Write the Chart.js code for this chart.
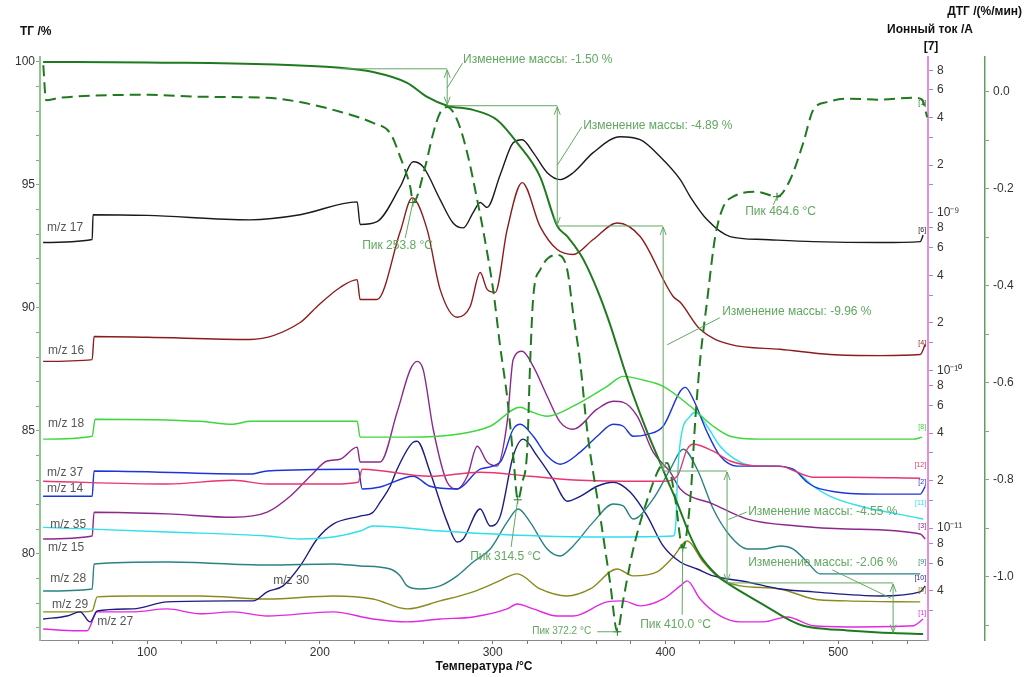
<!DOCTYPE html>
<html lang="ru">
<head>
<meta charset="utf-8">
<title>ТГ – ДТГ – МС</title>
<script src="https://cdn.jsdelivr.net/npm/chart.js@4.4.1/dist/chart.umd.min.js"></script>
<style>
  html, body { margin: 0; padding: 0; background: #fff; overflow: hidden; }
  canvas { display: block; }
</style>
</head>
<body>
<canvas id="tga" width="1026" height="677"></canvas>
<script>
const FONT = "'Liberation Sans', Arial, sans-serif";
const NOTE = '#62a862';
const TG_GREEN = '#1f7a1f';

// ticks
const tempTicks = [60, 80, 100, 120, 140, 160, 180, 200, 220, 240, 260, 280, 300, 320, 340, 360, 380, 400, 420, 440, 460, 480, 500, 520, 540];
const tgTicks = [77, 78, 79, 80, 81, 82, 83, 84, 85, 86, 87, 88, 89, 90, 91, 92, 93, 94, 95, 96, 97, 98, 99, 100];
const dtgTicks = [-1.1, -1.0, -0.9, -0.8, -0.7, -0.6, -0.5, -0.4, -0.3, -0.2, -0.1, 0.0];
const ionTicks = [3e-12, 4e-12, 6e-12, 8e-12, 1e-11, 1.5e-11, 2e-11, 3e-11, 4e-11, 6e-11, 8e-11,
  1e-10, 1.5e-10, 2e-10, 3e-10, 4e-10, 6e-10, 8e-10, 1e-9, 1.5e-9, 2e-9, 3e-9, 4e-9, 6e-9, 8e-9];

// TG, %
const tgTemp = [39.8, 100, 211.7, 230.8, 250.5, 262.1, 273.7, 288.7, 302.6, 314.2, 327.5, 337.4, 343.2, 350.7, 354.7, 362.3, 368.0, 372.2, 375.6, 381.3, 389.5, 397.0, 401.0, 405.7, 410.0, 414.4, 420.1, 428.8, 435.7, 453.1, 464.6, 472.2, 479.8, 485.6, 505.2, 531.8, 549.2];
const tgMass = [100.0, 99.98, 99.76, 99.59, 99.15, 98.58, 98.22, 98.05, 97.64, 96.71, 95.33, 93.33, 92.91, 92.19, 91.67, 90.43, 89.32, 88.40, 87.64, 86.47, 84.95, 83.70, 83.02, 82.27, 81.50, 80.72, 79.94, 79.20, 78.82, 78.08, 77.60, 77.30, 77.08, 77.00, 76.89, 76.78, 76.74];

// DTG, %/min
const dtgTemp = [39.9, 41.5, 49.6, 101.7, 130.7, 169.5, 188.6, 211.7, 230.8, 240.7, 246.5, 252.3, 254.0, 260.9, 265.6, 269.6, 273.7, 279.5, 285.3, 291.1, 294.5, 300.3, 304.4, 308.4, 311.9, 314.6, 317.1, 320.0, 321.7, 323.5, 327.5, 337.4, 343.2, 346.6, 350.7, 354.7, 362.3, 368.0, 372.2, 375.6, 381.3, 389.5, 397.0, 401.0, 405.7, 410.0, 414.4, 417.3, 420.1, 424.2, 428.8, 433.5, 439.2, 453.1, 464.6, 472.2, 479.8, 485.6, 493.7, 505.2, 524.3, 543.4, 548.6, 551.5];
const dtgRate = [0.055, -0.017, -0.012, -0.006, -0.010, -0.012, -0.021, -0.041, -0.064, -0.085, -0.134, -0.196, -0.228, -0.155, -0.085, -0.043, -0.031, -0.058, -0.126, -0.223, -0.285, -0.408, -0.526, -0.629, -0.75, -0.841, -0.806, -0.738, -0.559, -0.423, -0.367, -0.336, -0.367, -0.456, -0.559, -0.697, -0.876, -1.012, -1.113, -1.047, -0.944, -0.841, -0.773, -0.765, -0.84, -0.94, -0.841, -0.676, -0.553, -0.429, -0.299, -0.237, -0.216, -0.206, -0.216, -0.181, -0.105, -0.037, -0.021, -0.014, -0.016, -0.012, -0.016, -0.052];

// ion currents, A
const mz17Temp = [39.8, 68.2, 68.7, 100.0, 159.6, 188.6, 221.6, 223.3, 233.1, 246.5, 254.0, 259.8, 269.6, 277.1, 283.0, 288.7, 292.8, 296.8, 304.4, 311.9, 317.1, 323.5, 331.6, 339.1, 346.6, 358.2, 373.8, 385.4, 397.0, 408.6, 414.4, 424.2, 437.5, 456.6, 485.6, 524.3, 547.5, 549.2];
const mz17 = [6.46e-10, 6.75e-10, 9.7e-10, 9.6e-10, 9.0e-10, 9.7e-10, 1.17e-9, 8.4e-10, 8.76e-10, 1.46e-9, 2.1e-9, 1.95e-9, 1.21e-9, 8.6e-10, 8.0e-10, 1.0e-9, 1.16e-9, 1.08e-9, 1.74e-9, 2.77e-9, 2.9e-9, 2.4e-9, 1.79e-9, 1.62e-9, 1.79e-9, 2.4e-9, 3.03e-9, 2.9e-9, 2.26e-9, 1.62e-9, 1.26e-9, 9.0e-10, 7.05e-10, 6.75e-10, 6.55e-10, 6.46e-10, 6.55e-10, 7.2e-10];

const mz16Temp = [39.8, 68.2, 69.3, 100.0, 159.6, 188.6, 198.4, 211.7, 221.6, 223.3, 233.1, 246.5, 253.4, 262.1, 269.6, 279.5, 287.0, 292.8, 296.8, 301.5, 308.4, 317.1, 327.5, 337.4, 346.6, 358.2, 372.1, 385.4, 404.5, 408.6, 420.1, 437.5, 466.4, 495.4, 524.3, 547.5, 550.4];
const mz16 = [1.14e-10, 1.17e-10, 1.64e-10, 1.62e-10, 1.57e-10, 2.01e-10, 2.54e-10, 3.35e-10, 3.76e-10, 2.81e-10, 2.81e-10, 7.58e-10, 1.24e-9, 7.8e-10, 3.26e-10, 2.17e-10, 2.54e-10, 4.17e-10, 3.26e-10, 3.12e-10, 7.8e-10, 1.55e-9, 8.15e-10, 5.83e-10, 5.42e-10, 6.75e-10, 8.6e-10, 7.05e-10, 2.94e-10, 2.7e-10, 1.82e-10, 1.46e-10, 1.36e-10, 1.26e-10, 1.24e-10, 1.26e-10, 1.46e-10];

const mz18Temp = [39.8, 68.2, 69.9, 130.7, 149.8, 159.6, 221.6, 223.3, 250.5, 279.5, 298.6, 316.0, 321.7, 331.6, 346.6, 366.3, 375.6, 385.4, 398.7, 414.4, 427.7, 437.5, 454.9, 543.4, 548.6];
const mz18 = [3.66e-11, 3.82e-11, 4.9e-11, 4.75e-11, 4.55e-11, 4.75e-11, 4.75e-11, 3.77e-11, 3.77e-11, 3.93e-11, 4.42e-11, 5.83e-11, 5.5e-11, 5.12e-11, 5.92e-11, 7.92e-11, 9.16e-11, 8.76e-11, 7.92e-11, 5.92e-11, 4.42e-11, 3.82e-11, 3.66e-11, 3.66e-11, 3.77e-11];

const mz37Temp = [39.8, 111.6, 149.8, 169.5, 207.7, 222.2, 224.5, 263.8, 292.8, 321.7, 350.7, 398.7, 406.8, 412.6, 416.1, 427.7, 437.5, 454.9, 466.4, 476.3, 485.6, 505.2, 547.5];
const mz37 = [1.98e-11, 1.9e-11, 2.01e-11, 1.9e-11, 1.9e-11, 1.95e-11, 2.36e-11, 2.13e-11, 2.26e-11, 2.13e-11, 2.01e-11, 1.98e-11, 2.13e-11, 3.16e-11, 3.4e-11, 3.07e-11, 2.66e-11, 2.47e-11, 2.47e-11, 2.26e-11, 2.1e-11, 2.1e-11, 2.07e-11];

const mz14Temp = [39.8, 68.2, 69.3, 159.6, 169.5, 222.2, 224.5, 234.9, 254.0, 263.8, 279.5, 292.8, 304.4, 311.9, 316.0, 323.5, 331.6, 339.1, 350.7, 360.5, 369.8, 375.6, 381.3, 389.5, 398.7, 408.6, 411.5, 416.1, 424.2, 431.7, 441.6, 462.4, 474.0, 482.1, 489.6, 524.3, 547.5, 550.4];
const mz14 = [1.59e-11, 1.59e-11, 2.3e-11, 2.2e-11, 2.3e-11, 2.36e-11, 1.77e-11, 1.82e-11, 2.13e-11, 1.84e-11, 1.77e-11, 2.36e-11, 2.62e-11, 4.23e-11, 4.55e-11, 3.82e-11, 2.86e-11, 2.54e-11, 3.03e-11, 3.82e-11, 4.55e-11, 4.42e-11, 3.82e-11, 3.93e-11, 4.42e-11, 7.37e-11, 7.8e-11, 6.56e-11, 4.05e-11, 2.86e-11, 2.47e-11, 2.47e-11, 2.36e-11, 1.95e-11, 1.77e-11, 1.64e-11, 1.64e-11, 1.84e-11];

const mz35Temp = [39.8, 111.6, 169.5, 188.6, 207.7, 223.3, 230.8, 269.6, 327.5, 366.3, 404.5, 406.2, 406.8, 408.6, 414.4, 417.3, 424.2, 431.7, 443.3, 454.9, 466.4, 476.3, 485.6, 495.4, 514.5, 534.2, 549.2];
const mz35 = [1.01e-11, 9.43e-12, 8.9e-12, 8.52e-12, 8.77e-12, 9.57e-12, 1.03e-11, 9.57e-12, 8.9e-12, 8.77e-12, 8.9e-12, 1.14e-11, 1.84e-11, 3.5e-11, 5.12e-11, 5.42e-11, 4.42e-11, 3.3e-11, 2.62e-11, 2.47e-11, 2.47e-11, 2.26e-11, 1.84e-11, 1.59e-11, 1.36e-11, 1.23e-11, 1.14e-11];

const mz15Temp = [39.8, 68.2, 69.3, 111.6, 149.8, 169.5, 182.8, 194.4, 204.2, 211.7, 221.6, 223.3, 234.9, 244.7, 252.3, 256.3, 259.8, 265.6, 273.7, 279.5, 285.3, 291.1, 296.8, 302.6, 308.4, 311.9, 317.1, 323.5, 331.6, 339.1, 346.6, 360.5, 369.8, 375.6, 383.7, 392.9, 402.8, 408.6, 427.7, 447.4, 476.3, 505.2, 547.5, 550.4];
const mz15 = [8.52e-12, 8.9e-12, 1.26e-11, 1.23e-11, 1.17e-11, 1.26e-11, 1.59e-11, 2.13e-11, 2.66e-11, 2.73e-11, 3.26e-11, 2.62e-11, 2.62e-11, 5.42e-11, 1.01e-10, 1.14e-10, 1.01e-10, 4.23e-11, 1.95e-11, 1.77e-11, 2.13e-11, 3.3e-11, 2.62e-11, 2.47e-11, 4.69e-11, 1.17e-10, 1.32e-10, 1.06e-10, 6.85e-11, 4.69e-11, 4.23e-11, 5.67e-11, 6.36e-11, 6.27e-11, 5.12e-11, 3.03e-11, 2.26e-11, 1.77e-11, 1.42e-11, 1.14e-11, 1.03e-11, 9.85e-12, 9.16e-12, 8.52e-12];

const mz28Temp = [39.8, 68.2, 69.3, 111.6, 169.5, 207.7, 223.3, 240.7, 246.5, 250.5, 258.0, 269.6, 279.5, 288.7, 298.6, 308.4, 314.8, 321.7, 331.6, 339.1, 346.6, 358.2, 369.8, 375.6, 381.3, 392.9, 402.8, 410.3, 418.4, 427.7, 437.5, 447.4, 456.6, 466.4, 474.0, 482.1, 489.6, 524.3, 547.5];
const mz28 = [3.99e-12, 4.11e-12, 5.92e-12, 6.09e-12, 5.83e-12, 5.92e-12, 5.75e-12, 5.5e-12, 4.97e-12, 4.3e-12, 4.11e-12, 4.3e-12, 4.97e-12, 6.09e-12, 7.36e-12, 1.09e-11, 1.32e-11, 1.09e-11, 7.36e-12, 6.65e-12, 7.7e-12, 1.09e-11, 1.42e-11, 1.38e-11, 1.14e-11, 1.53e-11, 2.36e-11, 3.16e-11, 2.36e-11, 1.32e-11, 8.9e-12, 7.36e-12, 7.36e-12, 7.7e-12, 7.36e-12, 6.09e-12, 5.12e-12, 5.12e-12, 5.12e-12];

const mz30Temp = [39.8, 53.7, 61.2, 67.0, 71.1, 91.9, 111.6, 149.8, 161.4, 169.5, 178.7, 188.6, 198.4, 207.7, 223.3, 230.8, 234.9, 240.7, 244.7, 254.0, 256.3, 263.8, 273.7, 279.5, 283.0, 292.8, 298.6, 304.4, 311.9, 317.7, 325.8, 335.0, 343.1, 350.7, 360.5, 369.8, 379.6, 389.5, 398.7, 408.6, 418.4, 427.7, 447.4, 466.4, 485.6, 524.3, 547.5, 550.4];
const mz30 = [2.65e-12, 2.77e-12, 2.94e-12, 2.54e-12, 2.98e-12, 3.07e-12, 3.4e-12, 3.45e-12, 3.45e-12, 3.94e-12, 4.3e-12, 5.75e-12, 8.52e-12, 1.06e-11, 1.19e-11, 1.26e-11, 1.46e-11, 1.84e-11, 2.36e-11, 3.5e-11, 3.55e-11, 2.26e-11, 1.09e-11, 8.15e-12, 8.52e-12, 1.32e-11, 1.03e-11, 1.19e-11, 2.86e-11, 3.66e-11, 2.86e-11, 2.04e-11, 1.48e-11, 1.59e-11, 1.84e-11, 1.95e-11, 1.69e-11, 1.19e-11, 7.7e-12, 6.09e-12, 5.5e-12, 4.97e-12, 4.55e-12, 4.11e-12, 3.94e-12, 3.71e-12, 3.94e-12, 4.3e-12];

const mz29Temp = [39.8, 62.9, 68.2, 71.1, 91.9, 130.7, 169.5, 207.7, 230.8, 250.5, 269.6, 288.7, 302.6, 314.2, 327.5, 343.1, 356.5, 372.1, 381.3, 395.2, 404.5, 412.6, 421.9, 431.7, 443.3, 466.4, 485.6, 505.2, 547.5];
const mz29 = [2.94e-12, 2.94e-12, 2.98e-12, 3.66e-12, 3.71e-12, 3.71e-12, 3.55e-12, 3.71e-12, 3.55e-12, 3.07e-12, 3.45e-12, 3.94e-12, 4.55e-12, 5.12e-12, 4.11e-12, 3.71e-12, 4.11e-12, 5.5e-12, 4.97e-12, 5.27e-12, 6.55e-12, 8.27e-12, 6.09e-12, 4.76e-12, 4.3e-12, 4.11e-12, 3.55e-12, 3.45e-12, 3.4e-12];

const mz27Temp = [39.8, 59.5, 65.3, 71.1, 91.9, 111.6, 130.7, 149.8, 169.5, 207.7, 230.8, 250.5, 269.6, 288.7, 308.4, 314.2, 323.5, 337.4, 346.6, 366.3, 375.6, 385.4, 398.7, 408.6, 412.6, 420.1, 431.7, 443.3, 456.6, 470.5, 485.6, 505.2, 543.4, 549.2];
const mz27 = [2.29e-12, 2.23e-12, 2.23e-12, 2.94e-12, 2.94e-12, 3.07e-12, 2.86e-12, 2.94e-12, 2.77e-12, 2.94e-12, 2.65e-12, 2.54e-12, 2.65e-12, 2.73e-12, 3.07e-12, 3.3e-12, 3.07e-12, 2.77e-12, 2.77e-12, 3.4e-12, 3.45e-12, 3.21e-12, 3.55e-12, 4.3e-12, 4.62e-12, 3.55e-12, 2.77e-12, 2.54e-12, 2.54e-12, 2.73e-12, 2.4e-12, 2.36e-12, 2.4e-12, 2.65e-12];

// mass-loss steps (TG axis)
const bracketStart = 211.7;
const stepTemp = [273.7, 337.4, 398.7, 435.7, 531.8];
const stepFrom = [99.72, 98.22, 93.33, 83.37, 78.82];
const stepTo = [98.22, 93.33, 83.37, 78.82, 76.76];
const stepText = ['-1.50', '-4.89', '-9.96', '-4.55', '-2.06'];
const stepLabelT = [282.9, 352.4, 432.9, 447.9, 447.9];
const stepLabelTG = [100.08, 97.4, 89.84, 81.71, 79.63];
const leadFromT = [273.7, 337.4, 401.0, 436.5, 496.6];
const leadFromTG = [98.94, 95.8, 88.5, 81.4, 79.35];
const leadToT = [282.6, 351.5, 431.5, 447.0, 530.5];
const leadToTG = [99.95, 97.35, 89.6, 81.7, 78.2];

// DTG peaks
const peakTemp = [253.8, 314.5, 372.2, 410.0, 464.6];
const peakRate = [-0.228, -0.841, -1.113, -0.94, -0.216];
const peakLabelT = [224.5, 287.0, 322.9, 385.4, 446.2];
const peakLabelRate = [-0.318, -0.959, -1.111, -1.099, -0.247];
const peakLeadT = [249.4, 310.7, 360.5, 409.7, 462.4];
const peakLeadRate = [-0.301, -0.938, -1.113, -1.078, -0.233];
const peakFont = [12, 12, 10, 12, 12];

// curve names / end tags (placed on the TG axis)
const msNames = ['m/z 17', 'm/z 16', 'm/z 18', 'm/z 37', 'm/z 14', 'm/z 35', 'm/z 15', 'm/z 28', 'm/z 30', 'm/z 29', 'm/z 27'];
const msTags = ['[6]', '[4]', '[8]', '[12]', '[2]', '[11]', '[3]', '[9]', '[10]', '[5]', '[1]'];
const msColors = ['#1a1a1a', '#8c1c1c', '#3bd83b', '#e8366e', '#1c34dc', '#2ee0ea', '#8c288c', '#2a8282', '#1c1c84', '#8a8a1e', '#e228e2'];
const nameTemp = [42.1, 42.7, 42.7, 42.1, 42.1, 43.9, 42.7, 43.9, 173.0, 45.0, 71.1];
const nameTG = [93.25, 88.25, 85.28, 83.29, 82.64, 81.18, 80.24, 78.98, 78.9, 77.93, 77.24];
const tagTemp = 550.9;
const tagTG = [93.17, 88.58, 85.16, 83.62, 82.93, 82.07, 81.14, 79.67, 79.02, 78.54, 77.60];
const dtgTagTG = 98.33;

const msTemps = [mz17Temp, mz16Temp, mz18Temp, mz37Temp, mz14Temp, mz35Temp, mz15Temp, mz28Temp, mz30Temp, mz29Temp, mz27Temp];
const msValues = [mz17, mz16, mz18, mz37, mz14, mz35, mz15, mz28, mz30, mz29, mz27];

const pts = (xs, ys) => xs.map((x, i) => ({ x, y: ys[i] }));
const sup = s => String(s).replace(/[-0-9]/g, c => '⁻⁰¹²³⁴⁵⁶⁷⁸⁹'['-0123456789'.indexOf(c)]);
const fixedTicks = list => scale => { scale.ticks = list.map(value => ({ value })); };
const tickFont = { size: 12, family: FONT };

const datasets = [
  { label: 'ТГ', data: pts(tgTemp, tgMass), yAxisID: 'y', borderColor: TG_GREEN, borderWidth: 2 },
  { label: 'ДТГ', data: pts(dtgTemp, dtgRate), yAxisID: 'dtg', borderColor: TG_GREEN, borderWidth: 2, borderDash: [11, 6] }
].concat(msNames.map((name, i) => ({
  label: name, data: pts(msTemps[i], msValues[i]), yAxisID: 'ion', borderColor: msColors[i], borderWidth: 1.4
})));

const notes = {
  id: 'notes',
  afterDatasetsDraw(chart) {
    const { ctx, scales } = chart;
    const X = t => scales.x.getPixelForValue(t);
    const Y = m => scales.y.getPixelForValue(m);
    const D = r => scales.dtg.getPixelForValue(r);
    const seg = (x0, y0, x1, y1) => { ctx.beginPath(); ctx.moveTo(x0, y0); ctx.lineTo(x1, y1); ctx.stroke(); };
    ctx.save();
    ctx.lineWidth = 1;
    ctx.textBaseline = 'middle';
    ctx.textAlign = 'left';
    ctx.strokeStyle = NOTE;
    ctx.fillStyle = NOTE;

    // mass-loss brackets
    seg(X(bracketStart), Y(stepFrom[0]), X(stepTemp[0]), Y(stepFrom[0]));
    ctx.font = '12px ' + FONT;
    stepTemp.forEach((t, i) => {
      if (i < stepTemp.length - 1) seg(X(t), Y(stepTo[i]), X(stepTemp[i + 1]), Y(stepTo[i]));
      const x = X(t), top = Y(stepFrom[i]) + 1, bot = Y(stepTo[i]) - 1;
      seg(x, top, x, bot);
      seg(x - 3, top + 8, x, top); seg(x, top, x + 3, top + 8);
      seg(x - 3, bot - 8, x, bot); seg(x, bot, x + 3, bot - 8);
      seg(X(leadFromT[i]), Y(leadFromTG[i]), X(leadToT[i]), Y(leadToTG[i]));
      ctx.fillText('Изменение массы: ' + stepText[i] + ' %', X(stepLabelT[i]), Y(stepLabelTG[i]));
    });

    // DTG peaks
    peakTemp.forEach((t, i) => {
      const x = X(t), y = D(peakRate[i]);
      ctx.strokeStyle = TG_GREEN;
      seg(x - 4, y, x + 4, y); seg(x, y - 4, x, y + 4);
      ctx.strokeStyle = NOTE;
      seg(X(peakLeadT[i]), D(peakLeadRate[i]), x, y);
      ctx.font = peakFont[i] + 'px ' + FONT;
      ctx.fillText('Пик ' + t.toFixed(1) + ' °C', X(peakLabelT[i]), D(peakLabelRate[i]));
    });

    // curve names and end tags
    ctx.font = '12px ' + FONT;
    ctx.fillStyle = '#555';
    msNames.forEach((n, i) => ctx.fillText(n, X(nameTemp[i]), Y(nameTG[i])));
    ctx.font = '7px ' + FONT;
    ctx.textAlign = 'right';
    msTags.forEach((tag, i) => {
      ctx.fillStyle = msColors[i];
      ctx.fillText(tag, X(tagTemp), Y(tagTG[i]));
    });
    ctx.fillStyle = TG_GREEN;
    ctx.fillText('[1]', X(tagTemp), Y(dtgTagTG));
    ctx.restore();
  },
  afterDraw(chart) {
    const { ctx, chartArea, scales } = chart;
    ctx.save();
    ctx.font = 'bold 12px ' + FONT;
    ctx.fillStyle = '#111';
    ctx.textBaseline = 'middle';
    ctx.textAlign = 'left';
    ctx.fillText('ТГ /%', chartArea.left - 20, chartArea.top - 25);
    ctx.textAlign = 'center';
    ctx.fillText('Ионный ток /A', scales.ion.left + 2, chartArea.top - 27);
    ctx.fillText('[7]', scales.ion.left + 3, chartArea.top - 10);
    ctx.textAlign = 'right';
    ctx.fillText('ДТГ /(%/мин)', chart.width - 4, chartArea.top - 45);
    ctx.restore();
  }
};

new Chart(document.getElementById('tga'), {
  type: 'line',
  data: { datasets },
  plugins: [notes],
  options: {
    responsive: false,
    animation: false,
    devicePixelRatio: 1,
    events: [],
    layout: { padding: { top: 57, left: 0, right: 0, bottom: 0 } },
    elements: {
      point: { radius: 0 },
      line: { cubicInterpolationMode: 'monotone', fill: false }
    },
    plugins: { legend: { display: false }, tooltip: { enabled: false } },
    scales: {
      x: {
        type: 'linear', position: 'bottom', min: 38, max: 552,
        afterBuildTicks: fixedTicks(tempTicks),
        afterFit: s => { s.height = 37; },
        border: { color: '#8a8a8a', width: 1 },
        grid: { drawOnChartArea: false, tickLength: 4, tickColor: '#777' },
        ticks: { autoSkip: false, maxRotation: 0, padding: 1, color: '#333', font: tickFont,
          callback: v => (v % 100 === 0 ? String(v) : '') },
        title: { display: true, text: 'Температура /°C', color: '#111',
          font: { size: 12, weight: 'bold', family: FONT }, padding: { top: 0, bottom: 3 } }
      },
      y: {
        type: 'linear', position: 'left', min: 76.5, max: 100.2,
        afterBuildTicks: fixedTicks(tgTicks),
        afterFit: s => { s.width = 40; },
        border: { color: '#8cc88c', width: 2 },
        grid: { drawOnChartArea: false, tickLength: 4, tickColor: '#9a9a9a' },
        ticks: { autoSkip: false, padding: 1, color: '#333', font: tickFont,
          callback: v => (v % 5 === 0 ? String(v) : '') }
      },
      ion: {
        type: 'logarithmic', position: 'right', weight: 0, min: 1.95e-12, max: 9.7e-9,
        afterBuildTicks: fixedTicks(ionTicks),
        afterFit: s => { s.width = 57; },
        border: { color: '#e48fe4', width: 2 },
        grid: { drawOnChartArea: false, tickLength: 5, tickColor: '#c87ac8' },
        ticks: { autoSkip: false, padding: 4, color: '#333', font: tickFont,
          callback: v => {
            const e = Math.floor(Math.log10(v) + 1e-6);
            const m = Math.round(v / Math.pow(10, e) * 10) / 10;
            if (m === 1) return '10' + sup(e);
            return [2, 4, 6, 8].includes(m) ? String(m) : '';
          } }
      },
      dtg: {
        type: 'linear', position: 'right', weight: 1, min: -1.13, max: 0.072,
        afterBuildTicks: fixedTicks(dtgTicks),
        afterFit: s => { s.width = 41; },
        border: { color: '#5e9e5e', width: 1.5 },
        grid: { drawOnChartArea: false, tickLength: 4, tickColor: '#7aa87a' },
        ticks: { autoSkip: false, padding: 4, color: '#333', font: tickFont,
          callback: v => (Math.round(v * 10) % 2 === 0 ? v.toFixed(1) : '') }
      }
    }
  }
});
</script>
</body>
</html>
